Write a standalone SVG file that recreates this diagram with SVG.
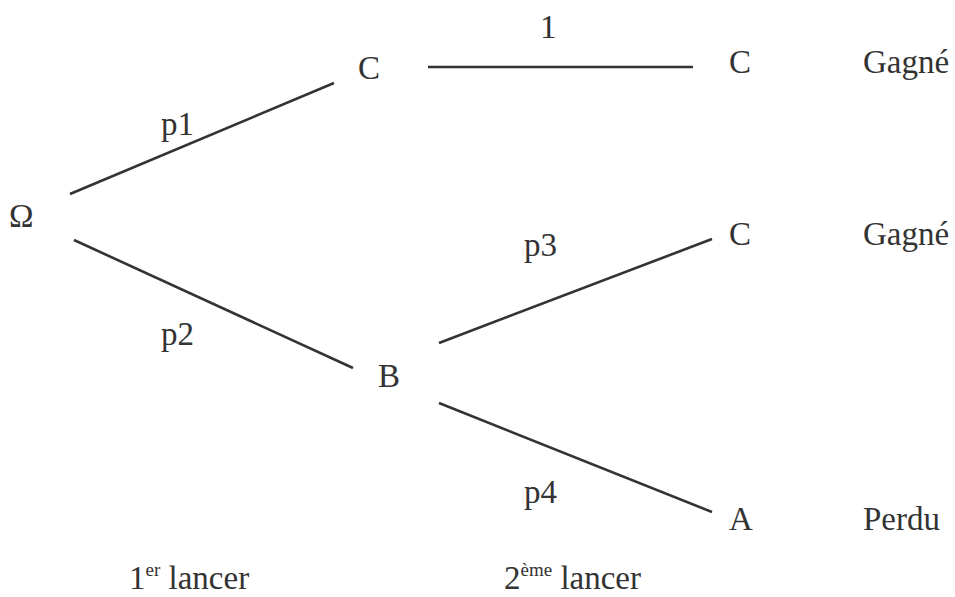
<svg xmlns="http://www.w3.org/2000/svg" width="955" height="597" viewBox="0 0 955 597">
<style>
.t{font-family:"Liberation Serif","Times New Roman",serif;font-size:33px;fill:#333}
.s{font-size:19px}
.c line{stroke:#333;stroke-width:2.6;stroke-linecap:butt}
</style>
<rect width="955" height="597" fill="#fff"/>
<g id="connectors" class="c">
<line x1="70" y1="194" x2="334" y2="83"/>
<line x1="74" y1="240" x2="353" y2="368"/>
<line x1="428" y1="67" x2="693" y2="67"/>
<line x1="439" y1="343" x2="712" y2="239"/>
<line x1="439" y1="403" x2="712" y2="512"/>
</g>
<g id="edge-labels">
<text class="t" x="161" y="135">p1</text>
<text class="t" x="161" y="345">p2</text>
<text class="t" x="540" y="38">1</text>
<text class="t" x="524" y="256">p3</text>
<text class="t" x="524" y="503">p4</text>
</g>
<g id="node-omega"><text class="t" x="9" y="227">Ω</text></g>
<g id="node-c1"><text class="t" x="358" y="79">C</text></g>
<g id="node-b"><text class="t" x="378" y="387">B</text></g>
<g id="node-cc"><text class="t" x="729" y="73">C</text></g>
<g id="node-bc"><text class="t" x="729" y="245">C</text></g>
<g id="node-ba"><text class="t" x="729" y="530">A</text></g>
<g id="results">
<text class="t" x="863" y="73">Gagné</text>
<text class="t" x="863" y="245">Gagné</text>
<text class="t" x="863" y="530">Perdu</text>
</g>
<g id="axis">
<text class="t" x="129" y="589">1<tspan class="s" dy="-13">er</tspan><tspan dy="13"> lancer</tspan></text>
<text class="t" x="504" y="589">2<tspan class="s" dy="-13">ème</tspan><tspan dy="13"> lancer</tspan></text>
</g>
</svg>
